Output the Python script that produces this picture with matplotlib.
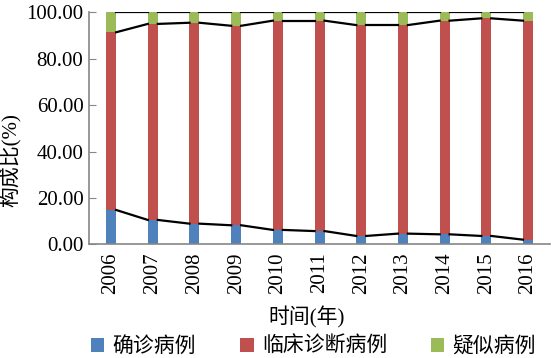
import numpy as np
import matplotlib.pyplot as plt

plt.rcParams['font.family'] = ['Liberation Serif', 'Noto Sans CJK SC']

# 年份和各类病例构成比(%)
years = ['2006', '2007', '2008', '2009', '2010', '2011',
         '2012', '2013', '2014', '2015', '2016']
confirmed = [14.8, 10.5, 8.9, 8.2, 6.2, 5.7, 3.6, 4.6, 4.3, 3.6, 2.0]
clinical_top = [91.4, 95.0, 95.5, 94.2, 96.4, 96.4, 94.5, 94.5, 96.4, 97.4, 96.4]
clinical = [c - a for c, a in zip(clinical_top, confirmed)]
suspected = [100 - c for c in clinical_top]

names = ['确诊病例', '临床诊断病例', '疑似病例']
colors = ['#4F81BD', '#C0504D', '#9BBB59']

fig = plt.figure(figsize=(5.53, 3.58), dpi=100)
ax = fig.add_axes([0.161, 0.3176, 0.8336, 0.648])

x = np.arange(len(years))
w = 0.24
b1 = np.array(confirmed)
b2 = b1 + np.array(clinical)
b3 = b2 + np.array(suspected)
ax.bar(x, confirmed, w, color=colors[0], label=names[0], zorder=2)
ax.bar(x, clinical, w, bottom=b1, color=colors[1], label=names[1], zorder=2)
ax.bar(x, suspected, w, bottom=b2, color=colors[2], label=names[2], zorder=2)

# 系列线: 连接相邻柱子的边缘
for level in (b1, b2, b3):
    for i in range(len(x) - 1):
        ax.plot([x[i] + w / 2, x[i + 1] - w / 2], [level[i], level[i + 1]],
                color='black', lw=1.6, zorder=3)

ax.set_xlim(-0.53, 10.53)
ax.set_ylim(0, 100)
ax.set_yticks(np.arange(0, 101, 20))
ax.set_yticklabels(['%.2f' % v for v in np.arange(0, 101, 20)], fontsize=15)
ax.set_xticks(x)
ax.set_xticklabels(years, rotation=90, fontsize=15)
ax.tick_params(axis='y', direction='in', length=5, color='#868686', pad=4)
ax.tick_params(axis='x', length=0, pad=6)

for s in ['top', 'right']:
    ax.spines[s].set_visible(False)
for s in ['left', 'bottom']:
    ax.spines[s].set_color('#868686')
    ax.spines[s].set_linewidth(1.2)

fig.text(0.02, 0.553, '构成比(%)', rotation=90, ha='center', va='center', fontsize=15)
fig.text(0.555, 0.112, '时间(年)', ha='center', va='center', fontsize=15)

fig.legend(loc='center', bbox_to_anchor=(0.567, 0.031), ncol=3, frameon=False,
           fontsize=15, handlelength=0.65, handleheight=0.65, handletextpad=0.4,
           columnspacing=2.1, borderpad=0, borderaxespad=0)

fig.savefig('out.png', dpi=100)
